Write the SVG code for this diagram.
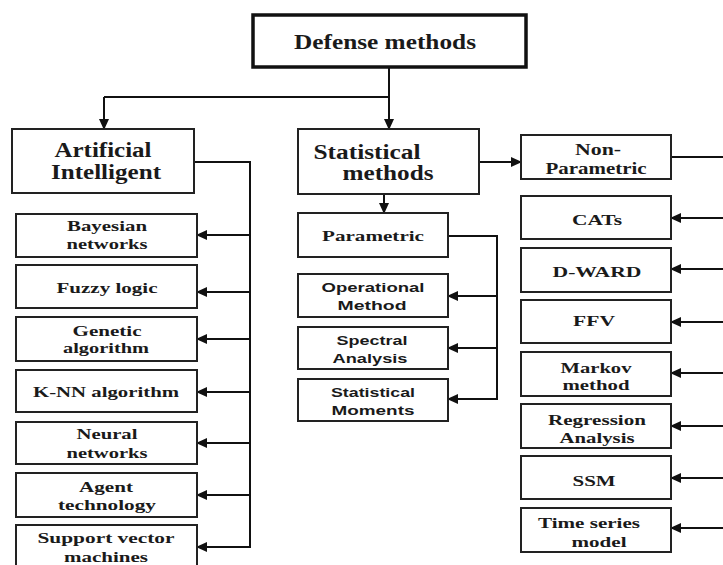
<svg xmlns="http://www.w3.org/2000/svg" width="723" height="565" viewBox="0 0 723 565">
<style>
.box{fill:#fff;stroke:#222;stroke-width:2}
.big{fill:#fff;stroke:#111;stroke-width:3.5}
.ln{fill:none;stroke:#111;stroke-width:2}
.t{font-family:"Liberation Serif","Times New Roman",serif;font-weight:bold;fill:#1a1a1a;text-anchor:middle;dominant-baseline:central}
.s{font-family:"Liberation Sans",Arial,sans-serif;font-weight:bold;fill:#1a1a1a;text-anchor:middle;dominant-baseline:central;font-size:13.5px}
.f20{font-size:20px}.f16{font-size:16px}.f15{font-size:15px}
</style>
<defs>
<marker id="ah" markerUnits="userSpaceOnUse" markerWidth="11" markerHeight="10" refX="10" refY="5" orient="auto">
<path d="M0,0 L11,5 L0,10 Z" fill="#111"/>
</marker>
</defs>

<g id="connectors">
<path class="ln" d="M389,67 V97 H104"/>
<line class="ln" x1="104" y1="97" x2="104" y2="129" marker-end="url(#ah)"/>
<line class="ln" x1="389" y1="97" x2="389" y2="129" marker-end="url(#ah)"/>
<path class="ln" d="M194,162 H250 V547"/>
<line class="ln" x1="250" y1="235" x2="197" y2="235" marker-end="url(#ah)"/>
<line class="ln" x1="250" y1="292" x2="197" y2="292" marker-end="url(#ah)"/>
<line class="ln" x1="250" y1="339" x2="197" y2="339" marker-end="url(#ah)"/>
<line class="ln" x1="250" y1="392" x2="197" y2="392" marker-end="url(#ah)"/>
<line class="ln" x1="250" y1="443" x2="197" y2="443" marker-end="url(#ah)"/>
<line class="ln" x1="250" y1="495" x2="197" y2="495" marker-end="url(#ah)"/>
<line class="ln" x1="251" y1="547" x2="197" y2="547" marker-end="url(#ah)"/>
<line class="ln" x1="384" y1="194" x2="384" y2="213" marker-end="url(#ah)"/>
<path class="ln" d="M448,236 H497 V399"/>
<line class="ln" x1="497" y1="296" x2="448" y2="296" marker-end="url(#ah)"/>
<line class="ln" x1="497" y1="348" x2="448" y2="348" marker-end="url(#ah)"/>
<line class="ln" x1="498" y1="399" x2="448" y2="399" marker-end="url(#ah)"/>
<line class="ln" x1="479" y1="162" x2="521" y2="162" marker-end="url(#ah)"/>
<line class="ln" x1="671" y1="157" x2="723" y2="157"/>
<line class="ln" x1="723" y1="218" x2="671" y2="218" marker-end="url(#ah)"/>
<line class="ln" x1="723" y1="269" x2="671" y2="269" marker-end="url(#ah)"/>
<line class="ln" x1="723" y1="322" x2="671" y2="322" marker-end="url(#ah)"/>
<line class="ln" x1="723" y1="373" x2="671" y2="373" marker-end="url(#ah)"/>
<line class="ln" x1="723" y1="426" x2="671" y2="426" marker-end="url(#ah)"/>
<line class="ln" x1="723" y1="478" x2="671" y2="478" marker-end="url(#ah)"/>
<line class="ln" x1="723" y1="528" x2="671" y2="528" marker-end="url(#ah)"/>
</g>

<g id="defense"><rect class="big" x="253" y="15" width="273" height="52"/>
<text class="t f20" x="385" y="42" textLength="182" lengthAdjust="spacingAndGlyphs">Defense methods</text></g>

<g id="ai"><rect class="box" x="12" y="129" width="182" height="64"/>
<text class="t f20" x="103" y="150" textLength="97" lengthAdjust="spacingAndGlyphs">Artificial</text>
<text class="t f20" x="106" y="172" textLength="110" lengthAdjust="spacingAndGlyphs">Intelligent</text></g>

<g id="statistical"><rect class="box" x="298" y="129" width="181" height="65"/>
<text class="t f20" x="367" y="152" textLength="107" lengthAdjust="spacingAndGlyphs">Statistical</text>
<text class="t f20" x="388" y="173" textLength="91" lengthAdjust="spacingAndGlyphs">methods</text></g>

<g id="nonparametric"><rect class="box" x="521" y="135" width="150" height="44"/>
<text class="t f16" x="598" y="149" textLength="46" lengthAdjust="spacingAndGlyphs">Non-</text>
<text class="t f16" x="596" y="168" textLength="101" lengthAdjust="spacingAndGlyphs">Parametric</text></g>

<g id="bayesian"><rect class="box" x="16" y="214" width="181" height="43"/>
<text class="t f15" x="107" y="226" textLength="80" lengthAdjust="spacingAndGlyphs">Bayesian</text>
<text class="t f15" x="107" y="244" textLength="81" lengthAdjust="spacingAndGlyphs">networks</text></g>

<g id="fuzzy"><rect class="box" x="16" y="265" width="181" height="43"/>
<text class="t f15" x="107" y="288" textLength="101" lengthAdjust="spacingAndGlyphs">Fuzzy logic</text></g>

<g id="genetic"><rect class="box" x="16" y="317" width="181" height="44"/>
<text class="t f15" x="107" y="331" textLength="69" lengthAdjust="spacingAndGlyphs">Genetic</text>
<text class="t f15" x="106" y="348" textLength="86" lengthAdjust="spacingAndGlyphs">algorithm</text></g>

<g id="knn"><rect class="box" x="16" y="370" width="181" height="42"/>
<text class="t f15" x="106" y="392" textLength="146" lengthAdjust="spacingAndGlyphs">K-NN algorithm</text></g>

<g id="neural"><rect class="box" x="16" y="422" width="181" height="42"/>
<text class="t f15" x="107" y="434" textLength="61" lengthAdjust="spacingAndGlyphs">Neural</text>
<text class="t f15" x="107" y="453" textLength="81" lengthAdjust="spacingAndGlyphs">networks</text></g>

<g id="agent"><rect class="box" x="16" y="473" width="181" height="44"/>
<text class="t f15" x="106" y="487" textLength="54" lengthAdjust="spacingAndGlyphs">Agent</text>
<text class="t f15" x="107" y="505" textLength="98" lengthAdjust="spacingAndGlyphs">technology</text></g>

<g id="svm"><rect class="box" x="16" y="525" width="181" height="45"/>
<text class="t f15" x="106" y="538" textLength="137" lengthAdjust="spacingAndGlyphs">Support vector</text>
<text class="t f15" x="106" y="557" textLength="84" lengthAdjust="spacingAndGlyphs">machines</text></g>

<g id="parametric"><rect class="box" x="298" y="213" width="150" height="44"/>
<text class="t f15" x="373" y="236" textLength="102" lengthAdjust="spacingAndGlyphs">Parametric</text></g>

<g id="operational"><rect class="box" x="298" y="274" width="150" height="43"/>
<text class="s" x="373" y="287" textLength="103" lengthAdjust="spacingAndGlyphs">Operational</text>
<text class="s" x="372" y="305" textLength="69" lengthAdjust="spacingAndGlyphs">Method</text></g>

<g id="spectral"><rect class="box" x="298" y="327" width="150" height="42"/>
<text class="s" x="372" y="340" textLength="71" lengthAdjust="spacingAndGlyphs">Spectral</text>
<text class="s" x="370" y="358" textLength="75" lengthAdjust="spacingAndGlyphs">Analysis</text></g>

<g id="moments"><rect class="box" x="298" y="379" width="150" height="42"/>
<text class="s" x="373" y="392" textLength="84" lengthAdjust="spacingAndGlyphs">Statistical</text>
<text class="s" x="373" y="410" textLength="83" lengthAdjust="spacingAndGlyphs">Moments</text></g>

<g id="cats"><rect class="box" x="521" y="196" width="150" height="43"/>
<text class="t f15" x="597" y="220" textLength="50" lengthAdjust="spacingAndGlyphs">CATs</text></g>

<g id="dward"><rect class="box" x="521" y="248" width="150" height="44"/>
<text class="t f15" x="597" y="272" textLength="89" lengthAdjust="spacingAndGlyphs">D-WARD</text></g>

<g id="ffv"><rect class="box" x="521" y="300" width="150" height="43"/>
<text class="t f15" x="594" y="321" textLength="42" lengthAdjust="spacingAndGlyphs">FFV</text></g>

<g id="markov"><rect class="box" x="521" y="352" width="150" height="44"/>
<text class="t f15" x="596" y="368" textLength="71" lengthAdjust="spacingAndGlyphs">Markov</text>
<text class="t f15" x="596" y="385" textLength="67" lengthAdjust="spacingAndGlyphs">method</text></g>

<g id="regression"><rect class="box" x="521" y="404" width="150" height="44"/>
<text class="t f15" x="597" y="420" textLength="98" lengthAdjust="spacingAndGlyphs">Regression</text>
<text class="t f15" x="597" y="438" textLength="75" lengthAdjust="spacingAndGlyphs">Analysis</text></g>

<g id="ssm"><rect class="box" x="521" y="456" width="150" height="43"/>
<text class="t f15" x="594" y="481" textLength="43" lengthAdjust="spacingAndGlyphs">SSM</text></g>

<g id="timeseries"><rect class="box" x="521" y="508" width="150" height="44"/>
<text class="t f15" x="589" y="523" textLength="102" lengthAdjust="spacingAndGlyphs">Time series</text>
<text class="t f15" x="599" y="542" textLength="55" lengthAdjust="spacingAndGlyphs">model</text></g>
</svg>
